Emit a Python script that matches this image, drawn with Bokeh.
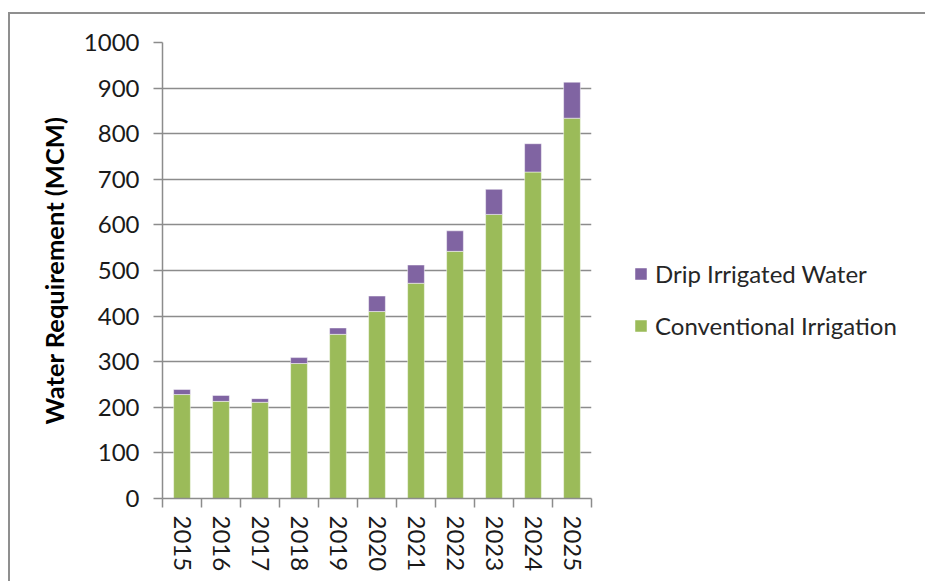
from bokeh.plotting import figure
from bokeh.models import ColumnDataSource, Range1d, FixedTicker, Legend, LegendItem
from bokeh.embed import file_html
from bokeh.resources import INLINE

# Water requirement by year (MCM)
years = ["2015", "2016", "2017", "2018", "2019", "2020",
         "2021", "2022", "2023", "2024", "2025"]
conventional = [228, 213, 211, 296, 360, 410, 472, 542, 623, 716, 834]
drip = [11, 13, 8, 13, 14, 34, 40, 45, 55, 62, 79]
y_ticks = list(range(0, 1001, 100))

GREEN = "#9BBB59"
PURPLE = "#8064A2"
GRID = "#8c8c8c"
FONT = "Lato"

centers = [i + 0.5 for i in range(len(years))]
source = ColumnDataSource(dict(x=centers, year=years,
                               conventional=conventional, drip=drip))

p = figure(frame_width=429, frame_height=456, output_backend="svg", toolbar_location=None,
           x_range=Range1d(0, len(years)), y_range=Range1d(0, 1000),
           min_border_left=152, min_border_right=0,
           min_border_top=28, min_border_bottom=84)
p.styles = {"margin-left": "8px", "margin-top": "12px",
            "border-left": "2px solid #8f8f8f", "border-top": "2px solid #8f8f8f"}

renderers = p.vbar_stack(["conventional", "drip"], x="x", width=0.43,
                         color=[GREEN, PURPLE], line_color="white",
                         line_alpha=0.6, line_width=0.8, source=source)

p.outline_line_color = None
p.background_fill_color = "white"
p.border_fill_color = "white"

# y axis
p.yaxis.ticker = FixedTicker(ticks=y_ticks)
p.yaxis.axis_line_color = GRID
p.yaxis.axis_line_width = 1.5
p.yaxis.major_tick_line_color = GRID
p.yaxis.major_tick_line_width = 1.5
p.yaxis.major_tick_out = 9
p.yaxis.major_tick_in = 0
p.yaxis.minor_tick_line_color = None
p.yaxis.major_label_text_font = FONT
p.yaxis.major_label_text_font_size = "24px"
p.yaxis.major_label_text_color = "#1a1a1a"
p.yaxis.major_label_standoff = 14
p.yaxis.axis_label = "Water Requirement (MCM)"
p.yaxis.axis_label_text_font = FONT
p.yaxis.axis_label_text_font_style = "bold"
p.yaxis.axis_label_text_font_size = "25.5px"
p.yaxis.axis_label_text_color = "#000000"
p.yaxis.axis_label_standoff = 12

# x axis: labels at bar centres, ticks on category boundaries
p.xaxis.ticker = FixedTicker(ticks=centers, minor_ticks=list(range(len(years) + 1)))
p.xaxis.major_label_overrides = {c: y for c, y in zip(centers, years)}
p.xaxis.major_label_orientation = "vertical"
p.xaxis.axis_line_color = GRID
p.xaxis.axis_line_width = 1.5
p.xaxis.major_tick_line_color = None
p.xaxis.minor_tick_line_color = GRID
p.xaxis.minor_tick_line_width = 1.5
p.xaxis.minor_tick_out = 9
p.xaxis.minor_tick_in = 0
p.xaxis.major_label_text_font = FONT
p.xaxis.major_label_text_font_size = "24px"
p.xaxis.major_label_text_color = "#1a1a1a"
p.xaxis.major_label_standoff = 8

p.xgrid.grid_line_color = None
p.ygrid.ticker = FixedTicker(ticks=y_ticks)
p.ygrid.grid_line_color = GRID
p.ygrid.grid_line_width = 1.5

legend = Legend(items=[LegendItem(label="Drip Irrigated Water", renderers=[renderers[1]]),
                       LegendItem(label="Conventional Irrigation", renderers=[renderers[0]])],
                location=(42, 158))
legend.border_line_color = None
legend.background_fill_alpha = 0
legend.padding = 0
legend.margin = 0
legend.glyph_width = 15
legend.glyph_height = 15
legend.label_standoff = 7
legend.label_height = 25
legend.spacing = 23
legend.label_text_font = FONT
legend.label_text_font_size = "24px"
legend.label_text_color = "#262626"
p.add_layout(legend, "right")

open("out.html", "w").write(file_html(p, INLINE))
